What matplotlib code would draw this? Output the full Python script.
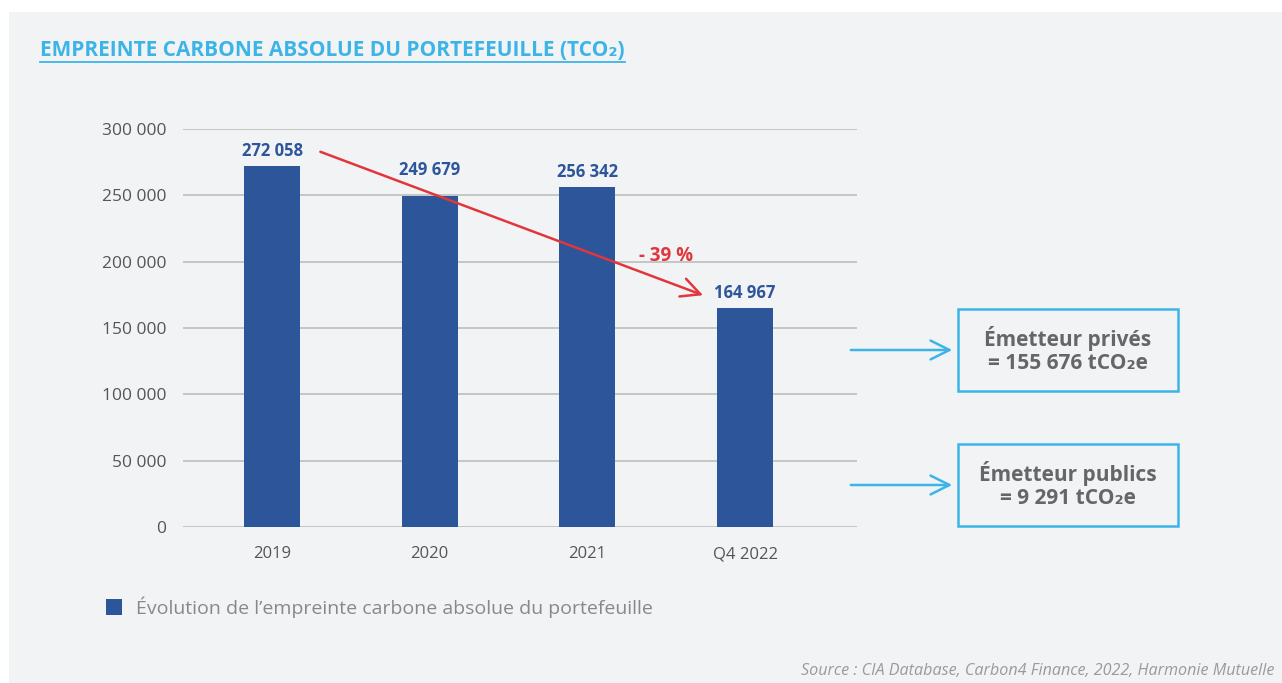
import matplotlib.pyplot as plt
from matplotlib.patches import Rectangle
from matplotlib.lines import Line2D

# data
years = ['2019', '2020', '2021', 'Q4 2022']
emissions = [272058, 249679, 256342, 164967]
labels = ['272 058', '249 679', '256 342', '164 967']
yticks = [0, 50000, 100000, 150000, 200000, 250000, 300000]
ytick_labels = ['0', '50 000', '100 000', '150 000', '200 000', '250 000', '300 000']
split_lines = [['Émetteur privés', '= 155 676 tCO₂e'], ['Émetteur publics', '= 9 291 tCO₂e']]
drop_label = '- 39 %'

bar_col = '#2d5599'
cyan = '#3db4e8'
red = '#e0363c'
bg = '#f2f3f5'

plt.rcParams['font.family'] = ['Open Sans', 'DejaVu Sans']

fig = plt.figure(figsize=(12.82, 6.83), dpi=100)
fig.patch.set_facecolor('white')
fig.patches.append(Rectangle((9 / 1282, 0), 1, 1 - 12 / 683, transform=fig.transFigure,
                             facecolor=bg, edgecolor='none', zorder=-10))

ax = fig.add_axes([183 / 1282, 1 - 527 / 683, (857 - 183) / 1282, (527 - 129) / 683])
ax.set_facecolor('none')
x = list(range(len(years)))
ax.bar(x, emissions, width=0.355, color=bar_col, zorder=3)
for xi, v, lab in zip(x, emissions, labels):
    pad = 12500 if xi == 1 else 4500  # 2020 label lifted clear of the trend arrow
    ax.text(xi, v + pad, lab, ha='center', va='bottom', color=bar_col,
            fontsize=12, fontweight='bold')

ax.set_xlim(-0.565, 3.71)
ax.set_ylim(0, 300000)
ax.set_yticks(yticks)
ax.set_yticklabels(ytick_labels)
ax.set_xticks(x)
ax.set_xticklabels(years)
ax.tick_params(axis='y', length=0, pad=12, labelsize=12.5, labelcolor='#555555')
ax.tick_params(axis='x', length=0, pad=14, labelsize=12, labelcolor='#555555')
ax.grid(axis='y', color='#bdbdbd', linewidth=1.2)
for s in ax.spines.values():
    s.set_visible(False)
ax.set_axisbelow(True)

# trend arrow
ax.annotate('', xy=(2.75, emissions[3] + 9000), xytext=(0.29, emissions[0] + 11500),
            arrowprops=dict(arrowstyle='->', color=red, lw=1.8, mutation_scale=34),
            zorder=5)
ax.text(2.5, 204000, drop_label, color=red, fontsize=13.5, fontweight='bold',
        ha='center', va='center')

# title
fig.text(40 / 1282, 1 - 51 / 683, 'EMPREINTE CARBONE ABSOLUE DU PORTEFEUILLE (TCO₂)',
         color=cyan, fontsize=15, fontweight='bold', va='center', ha='left')
fig.add_artist(Line2D([40 / 1282, 625 / 1282], [1 - 62 / 683, 1 - 62 / 683],
                      color=cyan, lw=1.3, transform=fig.transFigure))

# split boxes
for (l1, l2), yc in zip(split_lines, [350, 485]):
    fy = 1 - yc / 683
    fig.add_artist(Rectangle((958 / 1282, 1 - (yc + 41) / 683), 220 / 1282, 82 / 683,
                             transform=fig.transFigure, facecolor='none',
                             edgecolor=cyan, lw=1.8))
    fig.text(1068 / 1282, fy, l1 + '\n' + l2, ha='center', va='center',
             color='#666666', fontsize=15, fontweight='bold', linespacing=1.15)
    fig.add_artist(plt.Annotation('', xy=(955 / 1282, fy), xytext=(848 / 1282, fy),
                                  xycoords='figure fraction', textcoords='figure fraction',
                                  arrowprops=dict(arrowstyle='->', color=cyan, lw=1.8,
                                                  mutation_scale=34)))

# legend
fig.add_artist(Rectangle((106 / 1282, 1 - 615 / 683), 16 / 1282, 16 / 683,
                         transform=fig.transFigure, facecolor=bar_col, edgecolor='none'))
fig.text(136 / 1282, 1 - 607 / 683, 'Évolution de l’empreinte carbone absolue du portefeuille',
         color='#888888', fontsize=14, va='center', ha='left')

# source
fig.text(1274 / 1282, 1 - 671 / 683,
         'Source : CIA Database, Carbon4 Finance, 2022, Harmonie Mutuelle',
         color='#9a9a9a', fontsize=11.6, style='italic', ha='right', va='center')

fig.savefig('out.png', dpi=100)
